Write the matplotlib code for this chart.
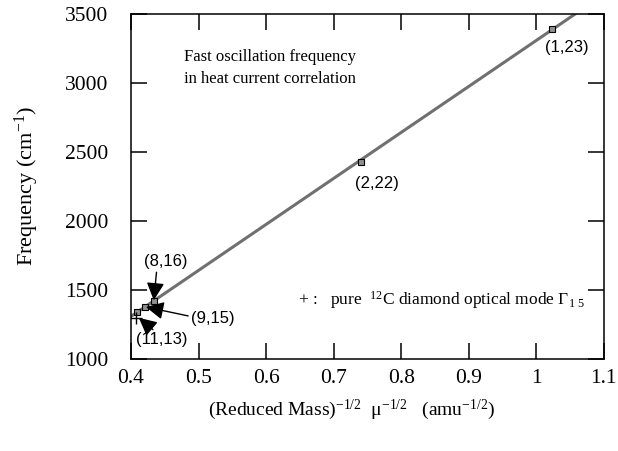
import numpy as np
import matplotlib
matplotlib.use("Agg")
import matplotlib.pyplot as plt

plt.rcParams["mathtext.fontset"] = "custom"
plt.rcParams["mathtext.rm"] = "Liberation Serif"
plt.rcParams["mathtext.it"] = "Liberation Serif:italic"
plt.rcParams["mathtext.bf"] = "Liberation Serif:bold"

# Data
labels = ["(1,23)", "(2,22)", "(8,16)", "(9,15)", "(11,13)"]
mu_inv_sqrt = [1.023, 0.740, 0.434, 0.420, 0.409]
frequency = [3391, 2430, 1420, 1379, 1343]
diamond_x = [0.407]
diamond_y = [1297]
x_ticks = [0.4, 0.5, 0.6, 0.7, 0.8, 0.9, 1, 1.1]
x_ticklabels = ["0.4", "0.5", "0.6", "0.7", "0.8", "0.9", "1", "1.1"]
y_ticks = [1000, 1500, 2000, 2500, 3000, 3500]

serif = "Liberation Serif"
sans = "Liberation Sans"

fig = plt.figure(figsize=(6.18, 4.51), dpi=100)
ax = fig.add_axes([0.212, 0.204, 0.765, 0.765])

# fit line
coef = np.polyfit(mu_inv_sqrt, frequency, 1)
xl = np.array([0.4, 1.1])
ax.plot(xl, np.polyval(coef, xl), color="#707070", lw=2.2, zorder=2)
ax.plot(mu_inv_sqrt, frequency, ls="none", marker="s", ms=4.5,
        mfc="#909090", mec="black", mew=0.8, zorder=3)
ax.plot(diamond_x, diamond_y, ls="none", marker="+", ms=8, mew=1.0,
        color="black", zorder=3)

ax.set_xlim(0.4, 1.1)
ax.set_ylim(1000, 3500)
ax.set_xticks(x_ticks)
ax.set_xticklabels(x_ticklabels, fontfamily=serif, fontsize=15.5)
ax.set_yticks(y_ticks)
ax.set_yticklabels([str(v) for v in y_ticks], fontfamily=serif, fontsize=15.5)
ax.tick_params(direction="in", length=11.5, width=1.1, top=True, right=True)
ax.tick_params(axis="x", pad=7)
ax.tick_params(axis="y", pad=16.5)
for s in ax.spines.values():
    s.set_linewidth(1.1)

ax.set_ylabel("Frequency (cm$^{-1}$)", fontfamily=serif, fontsize=16, labelpad=17)
ax.set_xlabel("(Reduced Mass)$^{-1/2}$  $\\mathrm{\\mu}^{-1/2}$   (amu$^{-1/2}$)",
              fontfamily=serif, fontsize=14)
ax.xaxis.set_label_coords(0.467, -0.112)

# direct labels
ax.text(1.045, 3254, labels[0], fontfamily=sans, fontsize=12, ha="center", va="center")
ax.text(0.764, 2275, labels[1], fontfamily=sans, fontsize=12, ha="center", va="center")

arrowprops = dict(arrowstyle="-|>,head_length=0.9,head_width=0.45", color="black", lw=1.0,
                  shrinkA=0, shrinkB=1)
ax.annotate(labels[2], xy=(0.4335, 1415), xytext=(0.451, 1703), textcoords="data",
            fontfamily=sans, fontsize=12, ha="center", va="center",
            arrowprops=dict(arrowprops, relpos=(0.3, 0.0)))
ax.annotate(labels[3], xy=(0.420, 1379), xytext=(0.521, 1297), textcoords="data",
            fontfamily=sans, fontsize=12, ha="center", va="center",
            arrowprops=dict(arrowprops, relpos=(0.0, 0.6)))
ax.annotate(labels[4], xy=(0.410, 1305), xytext=(0.445, 1138), textcoords="data",
            fontfamily=sans, fontsize=12, ha="center", va="center",
            arrowprops=dict(arrowprops, relpos=(0.4, 1.0)))

ax.text(0.478, 3109, "Fast oscillation frequency\nin heat current correlation",
        fontfamily=serif, fontsize=12, ha="left", va="center", linespacing=1.45)
ax.text(0.647, 1428, "+ :   pure  $^{12}$C diamond optical mode $\\Gamma_{1\\ 5}$",
        fontfamily=serif, fontsize=12.5, ha="left", va="center")

fig.savefig("out.png", dpi=100)
